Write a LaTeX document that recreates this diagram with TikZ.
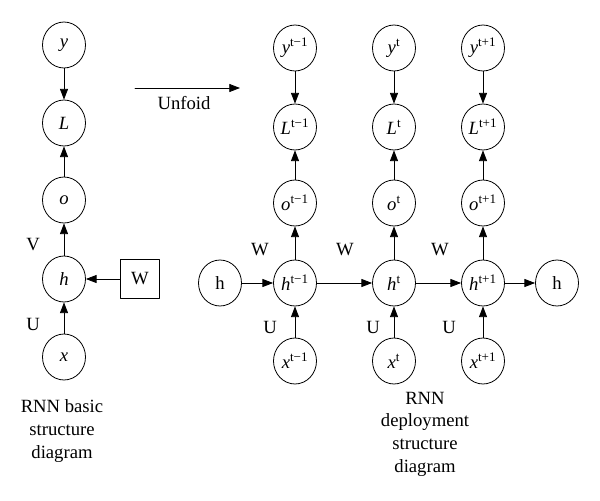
\documentclass[tikz,border=0pt]{standalone}
\usepackage{fontspec}
\setmainfont{Liberation Serif}
\usetikzlibrary{arrows.meta,shapes.geometric}
\begin{document}
\begin{tikzpicture}[x=0.75pt, y=-0.75pt, font=\fontsize{14}{17}\selectfont, line join=round, line cap=round,
 >={Triangle[length=8pt,width=6pt]}, line width=0.6pt,
 cell/.style={draw, ellipse, minimum width=43*0.75pt, minimum height=46*0.75pt, inner sep=0pt},
 wbox/.style={draw, minimum size=39*0.75pt, inner sep=0pt}]
 \useasboundingbox (0,0) rectangle (600,500);
 % basic structure
 \node[cell] (y) at (64,45) {\textit{y}};
 \node[cell] (L) at (64,123) {\textit{L}};
 \node[cell] (o) at (64,200) {\textit{o}};
 \node[cell] (h) at (64,279) {\textit{h}};
 \node[cell] (x) at (64,357) {\textit{x}};
 \node[wbox] (W) at (140,279) {W};
 \draw[->] (y)--(L);
 \draw[->] (o)--(L);
 \draw[->] (h)--(o);
 \draw[->] (x)--(h);
 \draw[->] (W)--(h);
 \node at (33,245) {V};
 \node at (33,324) {U};
 \node[align=center] (capA) at (62,431) {RNN basic\\structure\\diagram};
 % unfold
 \coordinate (u1) at (135,88); \coordinate (u2) at (240,88);
 \draw[->] (u1)--(u2);
 \node at (184,103) {Unfoid};
 % deployment
 \node[cell] (hs) at (220,283) {h};
 \node[cell] (he) at (557,283) {h};
 \foreach \n/\xx/\s in {a/295/{t−1}, b/394/{t}, c/483/{t+1}}{
  \node[cell] (y\n) at (\xx,48) {\textit{y}\textsuperscript{\s}};
  \node[cell] (L\n) at (\xx,127) {\textit{L}\textsuperscript{\s}};
  \node[cell] (o\n) at (\xx,203) {\textit{o}\textsuperscript{\s}};
  \node[cell] (h\n) at (\xx,283) {\textit{h}\textsuperscript{\s}};
  \node[cell] (x\n) at (\xx,361) {\textit{x}\textsuperscript{\s}};
  \draw[->] (y\n)--(L\n);
  \draw[->] (o\n)--(L\n);
  \draw[->] (h\n)--(o\n);
  \draw[->] (x\n)--(h\n);
 }
 \draw[->] (hs)--(ha);
 \draw[->] (ha)--(hb);
 \draw[->] (hb)--(hc);
 \draw[->] (hc)--(he);
 \node at (260,250) {W};
 \node at (345,250) {W};
 \node at (440,250) {W};
 \node at (270,327) {U};
 \node at (373,327) {U};
 \node at (449,327) {U};
 \node[align=center] (capB) at (425,434) {RNN\\deployment\\structure\\diagram};
\end{tikzpicture}
\end{document}
